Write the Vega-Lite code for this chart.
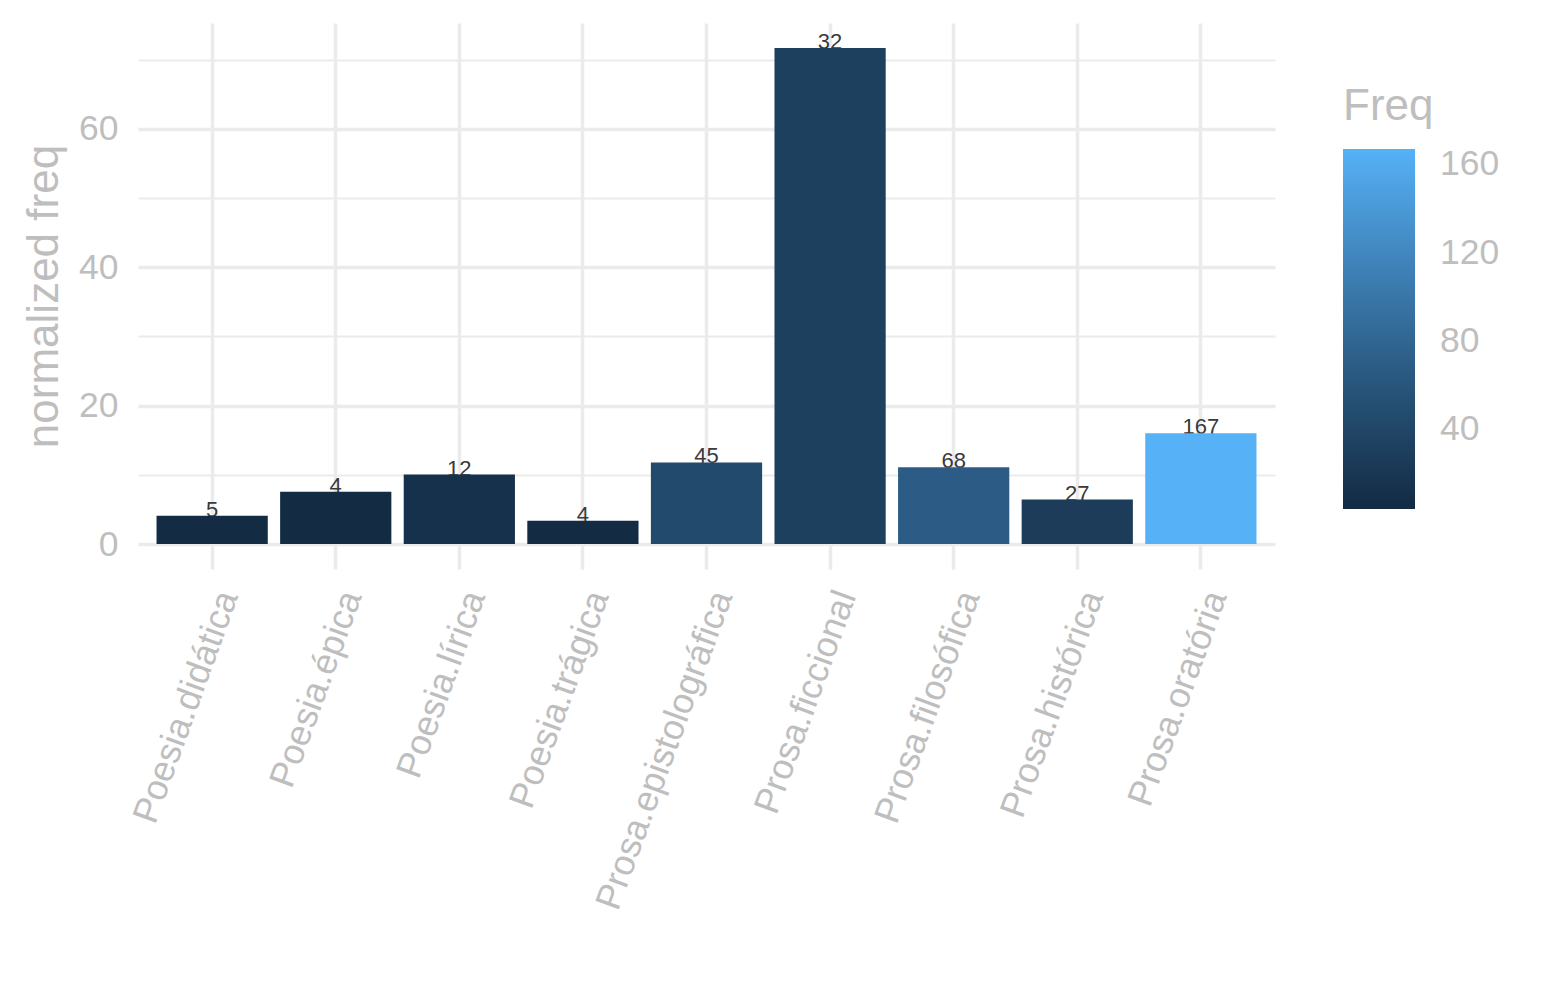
{
  "$schema": "https://vega.github.io/schema/vega-lite/v6.json",
  "description": "Normalized frequency by genre, bars coloured by raw frequency",
  "autosize": {"type": "none"},
  "width": 1137,
  "height": 546,
  "padding": {"left": 138, "top": 23, "right": 270, "bottom": 431},
  "background": "white",
  "data": {
    "values": [
      {"genre": "Poesia.didática", "norm": 4.11, "Freq": 5},
      {"genre": "Poesia.épica", "norm": 7.58, "Freq": 4},
      {"genre": "Poesia.lírica", "norm": 10.05, "Freq": 12},
      {"genre": "Poesia.trágica", "norm": 3.38, "Freq": 4},
      {"genre": "Prosa.epistolográfica", "norm": 11.8, "Freq": 45},
      {"genre": "Prosa.ficcional", "norm": 71.7, "Freq": 32},
      {"genre": "Prosa.filosófica", "norm": 11.09, "Freq": 68},
      {"genre": "Prosa.histórica", "norm": 6.44, "Freq": 27},
      {"genre": "Prosa.oratória", "norm": 16.03, "Freq": 167}
    ]
  },
  "encoding": {
    "x": {
      "field": "genre",
      "type": "nominal",
      "sort": null,
      "title": null,
      "scale": {"paddingInner": 0.1, "paddingOuter": 0.15},
      "axis": {
        "domain": false,
        "ticks": false,
        "bandPosition": 0.5,
        "grid": true,
        "gridColor": "#EBEBEB",
        "gridWidth": 3.5,
        "labelAngle": -70,
        "labelAlign": "right",
        "labelBaseline": "top",
        "labelPadding": 17,
        "labelFontSize": 36,
        "labelColor": "#BEBEBE",
        "labelFont": "Liberation Sans",
        "labelOverlap": false,
        "labelLimit": 0
      }
    },
    "y": {
      "field": "norm",
      "type": "quantitative",
      "title": "normalized freq",
      "scale": {"domain": [-3.6, 75.3], "nice": false, "zero": false},
      "axis": {
        "domain": false,
        "ticks": false,
        "values": [0, 10, 20, 30, 40, 50, 60, 70],
        "labelExpr": "datum.value % 20 === 0 ? datum.label : ''",
        "grid": true,
        "gridColor": "#EBEBEB",
        "gridWidth": {"condition": {"test": "datum.value % 20 === 0", "value": 3.5}, "value": 2},
        "labelPadding": 20,
        "labelFontSize": 35.5,
        "labelColor": "#BEBEBE",
        "labelFont": "Liberation Sans",
        "titleFontSize": 44,
        "titleFontWeight": "normal",
        "titleColor": "#BEBEBE",
        "titleFont": "Liberation Sans",
        "titlePadding": 12
      }
    }
  },
  "layer": [
    {
      "mark": {"type": "text", "baseline": "alphabetic", "dy": 1, "fontSize": 22, "font": "Liberation Sans", "color": "#3a3a3a"},
      "encoding": {"text": {"field": "Freq", "type": "quantitative"}}
    },
    {
      "mark": {"type": "bar"},
      "encoding": {
        "color": {
          "field": "Freq",
          "type": "quantitative",
          "scale": {"domain": [4, 167], "range": ["#132B43", "#56B1F7"], "interpolate": "lab"},
          "legend": {
            "orient": "none",
            "legendX": 1205,
            "legendY": 62,
            "padding": 0,
            "title": "Freq",
            "titleFontSize": 44,
            "titleFontWeight": "normal",
            "titleColor": "#BEBEBE",
            "titleFont": "Liberation Sans",
            "titlePadding": 20,
            "gradientLength": 360,
            "gradientThickness": 72,
            "gradientStrokeWidth": 0,
            "values": [40, 80, 120, 160],
            "labelFontSize": 35.5,
            "labelColor": "#BEBEBE",
            "labelFont": "Liberation Sans",
            "labelOffset": 25
          }
        }
      }
    }
  ],
  "config": {"view": {"stroke": null}}
}
